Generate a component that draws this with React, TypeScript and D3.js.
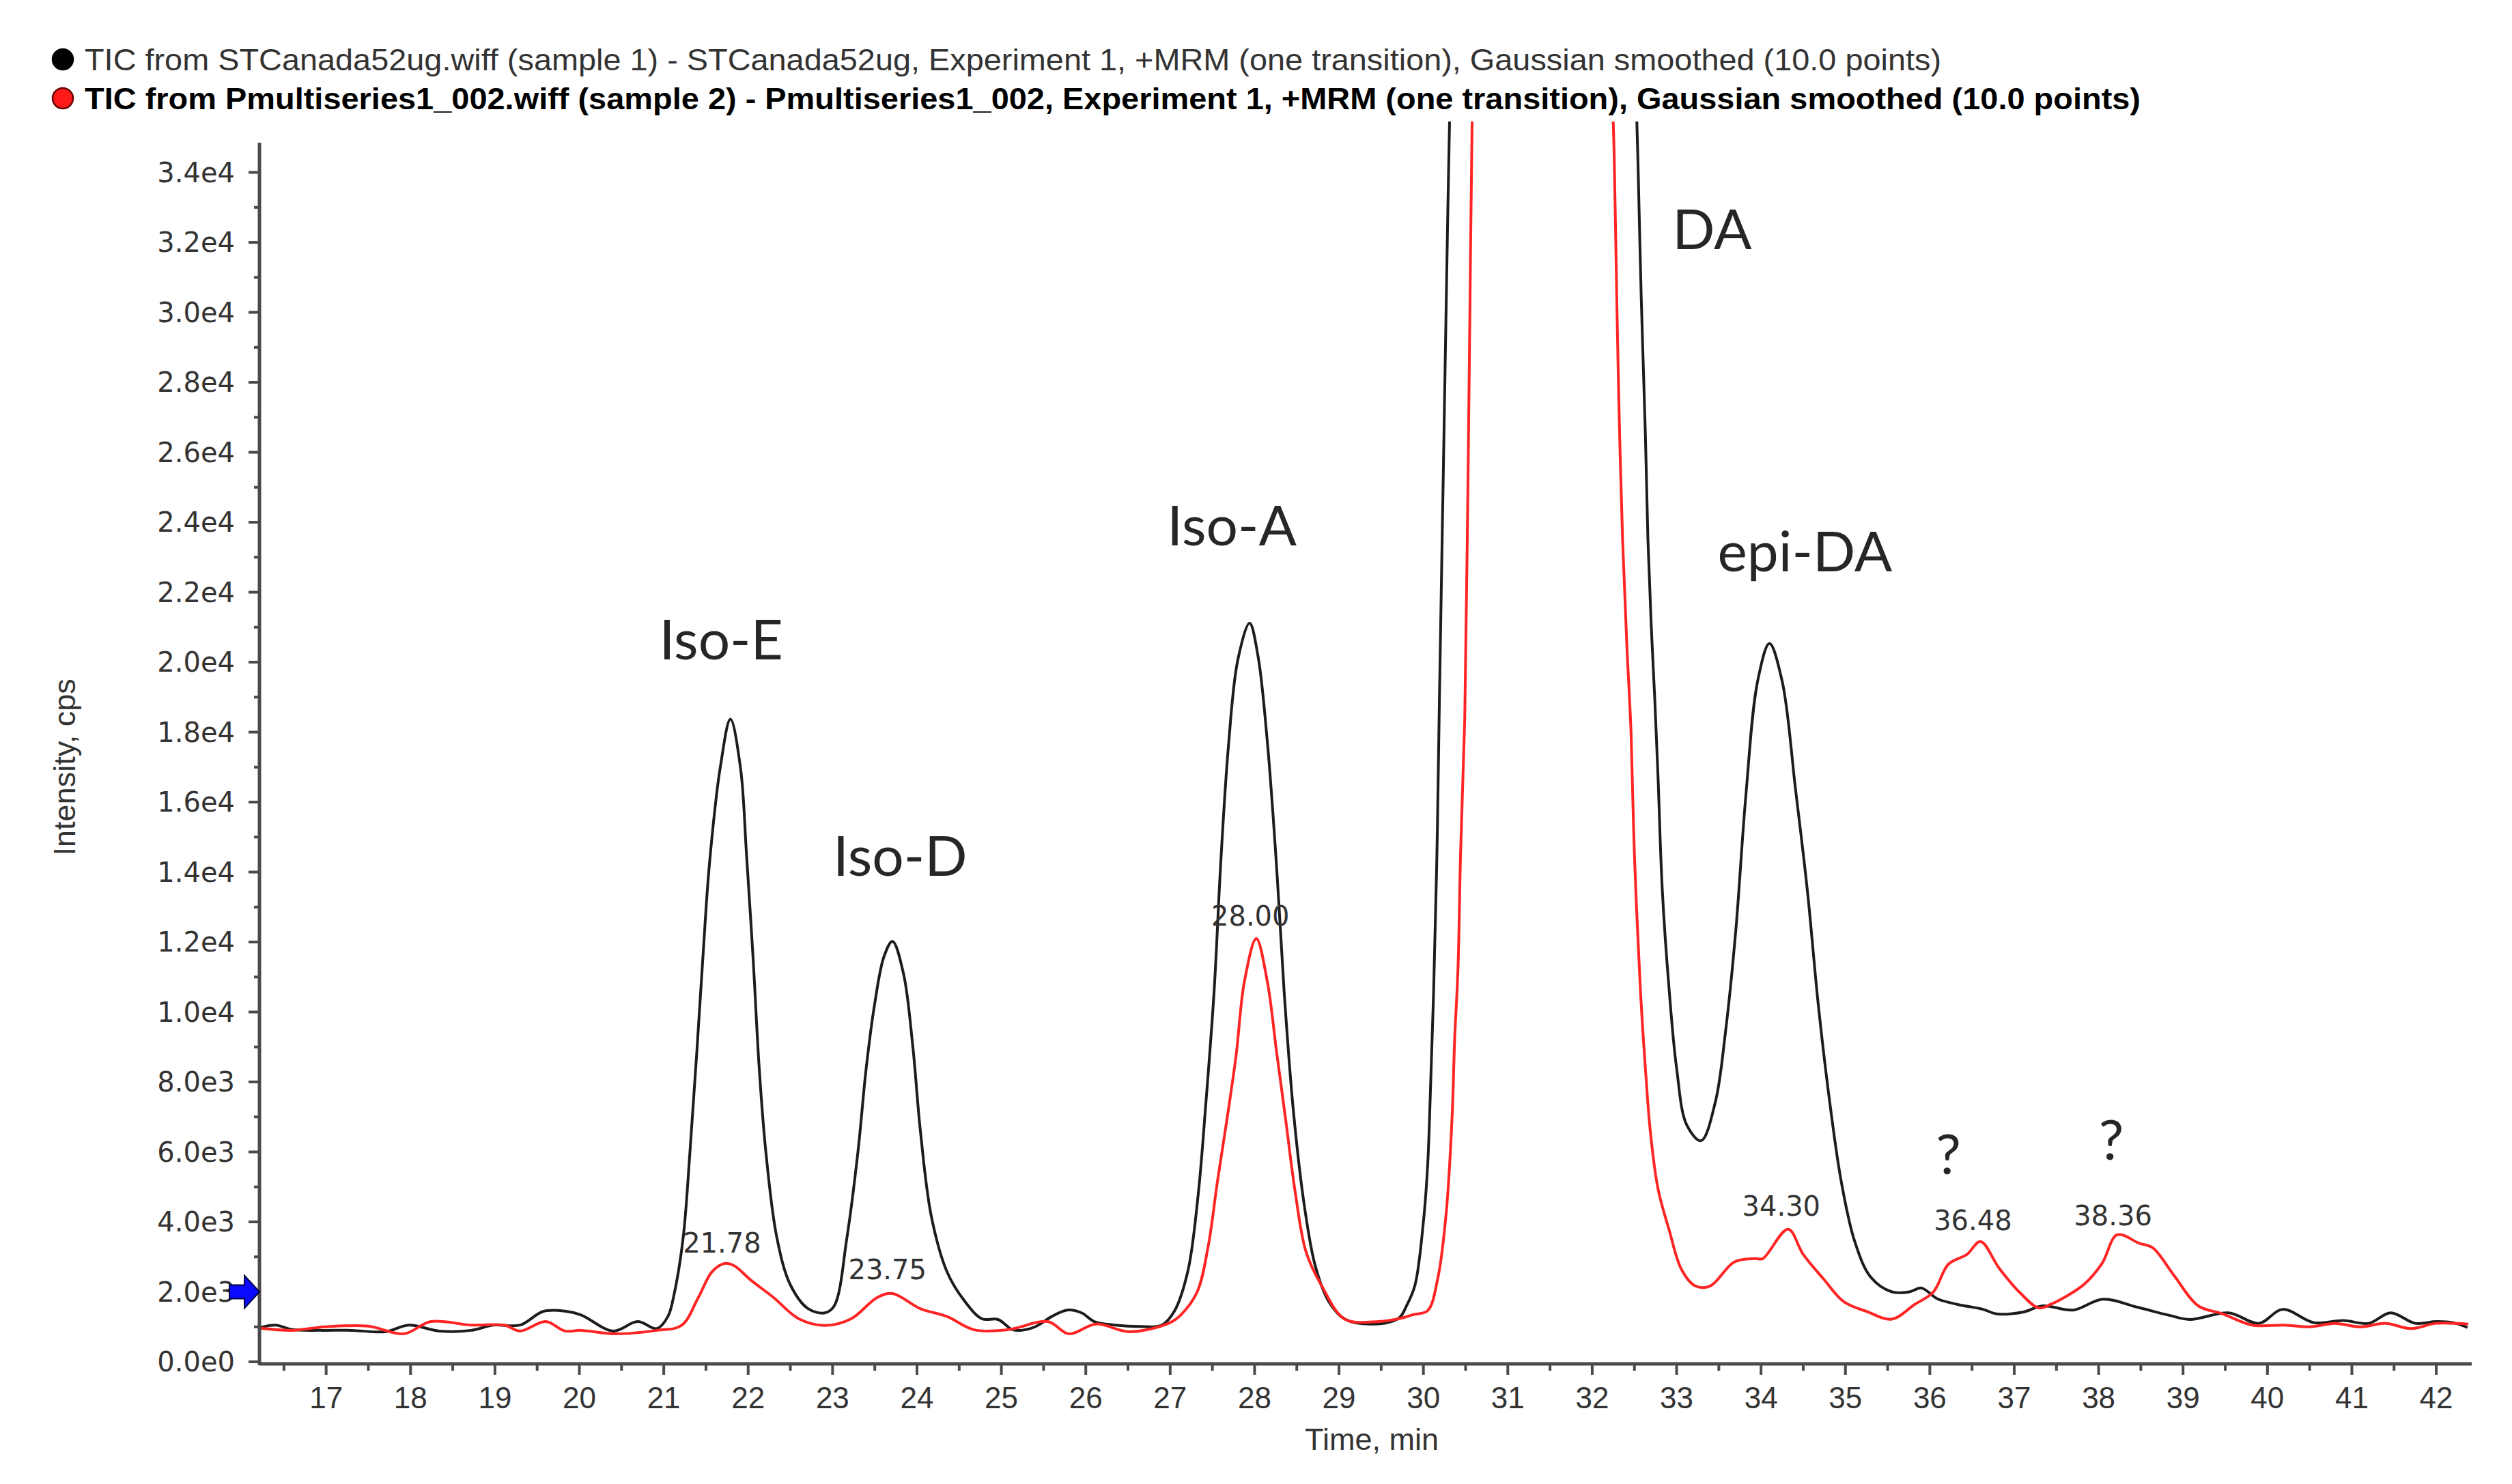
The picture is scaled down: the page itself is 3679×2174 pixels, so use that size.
import * as d3 from 'd3'

const W = 3679
const H = 2174

const legendLabels = [
  'TIC from STCanada52ug.wiff (sample 1) - STCanada52ug, Experiment 1, +MRM (one transition), Gaussian smoothed (10.0 points)',
  'TIC from Pmultiseries1_002.wiff (sample 2) - Pmultiseries1_002, Experiment 1, +MRM (one transition), Gaussian smoothed (10.0 points)',
]

const timeTicks = [17, 18, 19, 20, 21, 22, 23, 24, 25, 26, 27, 28, 29, 30, 31, 32, 33, 34, 35, 36, 37, 38, 39, 40, 41, 42]
const intensityTicks = [0, 2000, 4000, 6000, 8000, 10000, 12000, 14000, 16000, 18000, 20000, 22000, 24000, 26000, 28000, 30000, 32000, 34000]

// sample 1 (black): [time, cps]
const sample1: [number, number][] = [
  [16.22, 980], [16.4, 1050], [16.6, 920], [16.95, 900], [17.3, 900], [17.7, 860], [17.98, 1050],
  [18.34, 880], [18.72, 900], [18.98, 1050], [19.3, 1050], [19.57, 1440], [19.83, 1450], [20.02, 1340],
  [20.4, 880], [20.69, 1150], [20.92, 950], [21.05, 1300], [21.12, 1900], [21.23, 3550], [21.31, 5990],
  [21.39, 8800], [21.47, 11800], [21.54, 14200], [21.67, 17000], [21.79, 18370], [21.91, 16960],
  [21.98, 14520], [22.06, 11470], [22.13, 8430], [22.21, 5990], [22.34, 3550], [22.5, 2200], [22.71, 1520],
  [22.91, 1400], [23.02, 1600], [23.17, 3550], [23.3, 5990], [23.4, 8430], [23.5, 10250], [23.61, 11590],
  [23.71, 12020], [23.84, 11100], [23.95, 9030], [24.04, 6610], [24.17, 4160], [24.36, 2550], [24.56, 1750],
  [24.77, 1230], [24.96, 1210], [25.13, 920], [25.24, 900], [25.4, 1000], [25.6, 1300], [25.78, 1480],
  [25.95, 1400], [26.1, 1150], [26.35, 1050], [26.64, 1010], [26.9, 1050], [27.05, 1450], [27.21, 2600],
  [27.33, 4740], [27.42, 7310], [27.52, 10580], [27.6, 14310], [27.69, 17600], [27.8, 20050], [27.94, 21120],
  [28.04, 20180], [28.15, 17750], [28.26, 14170], [28.35, 10580], [28.46, 7160], [28.59, 4450], [28.72, 2730],
  [28.88, 1720], [29.07, 1220], [29.42, 1080], [29.71, 1250], [29.8, 1600], [29.9, 2190], [30.0, 4000],
  [30.05, 5600], [30.08, 7500], [30.12, 10500], [30.16, 14500], [30.19, 19000], [30.24, 26000],
  [30.29, 33000], [30.33, 38000], [30.6, 80000], [31.4, 150000], [32.2, 80000], [32.5, 38000],
  [32.54, 34500], [32.58, 30500], [32.63, 26500], [32.66, 23500], [32.7, 21000], [32.74, 19000],
  [32.78, 16700], [32.83, 13500], [32.91, 10680], [33.0, 8390], [33.12, 6770], [33.29, 6320], [33.46, 7440],
  [33.58, 9450], [33.7, 12300], [33.82, 16180], [33.96, 19460], [34.1, 20530], [34.25, 19460], [34.41, 16340],
  [34.55, 13450], [34.68, 10170], [34.82, 7310], [34.95, 5160], [35.11, 3440], [35.3, 2420], [35.55, 2000],
  [35.76, 2000], [35.9, 2110], [36.09, 1800], [36.33, 1640], [36.63, 1500], [36.79, 1370], [37.1, 1420],
  [37.34, 1600], [37.7, 1480], [38.05, 1790], [38.46, 1560], [38.82, 1340], [39.08, 1210], [39.54, 1400],
  [39.9, 1100], [40.18, 1500], [40.55, 1120], [40.9, 1180], [41.2, 1100], [41.46, 1400], [41.75, 1100],
  [42.0, 1150], [42.2, 1120], [42.37, 980],
]

// sample 2 (red): [time, cps]
const sample2: [number, number][] = [
  [16.22, 960], [16.6, 900], [16.98, 1000], [17.5, 1020], [17.92, 800], [18.24, 1150], [18.72, 1050],
  [19.11, 1050], [19.3, 880], [19.6, 1150], [19.83, 880], [20.02, 900], [20.43, 800], [20.92, 900],
  [21.21, 1040], [21.41, 1840], [21.57, 2570], [21.72, 2810], [21.83, 2750], [22.04, 2320], [22.3, 1840],
  [22.6, 1230], [22.91, 1040], [23.22, 1230], [23.53, 1840], [23.71, 1950], [24.04, 1520], [24.36, 1290],
  [24.67, 920], [25.08, 920], [25.55, 1150], [25.8, 800], [26.12, 1080], [26.52, 860], [26.99, 1110],
  [27.13, 1350], [27.32, 2000], [27.45, 3300], [27.56, 5160], [27.67, 6890], [27.78, 8740], [27.88, 10880],
  [28.02, 12100], [28.15, 10880], [28.26, 8870], [28.37, 6890], [28.48, 4870], [28.61, 3140], [28.8, 2150],
  [29.07, 1220], [29.47, 1150], [29.74, 1250], [29.88, 1350], [30.05, 1460], [30.17, 2380], [30.27, 4250],
  [30.34, 7000], [30.37, 9200], [30.41, 11260], [30.44, 14500], [30.49, 18400], [30.52, 23500],
  [30.55, 29800], [30.58, 36000], [31.0, 90000], [31.5, 150000], [32.0, 90000], [32.22, 38000],
  [32.26, 34500], [32.29, 30500], [32.32, 27000], [32.36, 23500], [32.41, 20500], [32.46, 18000],
  [32.5, 14500], [32.57, 10680], [32.63, 8390], [32.69, 6550], [32.78, 4940], [32.91, 3780], [33.06, 2630],
  [33.22, 2170], [33.4, 2170], [33.68, 2850], [33.93, 2950], [34.02, 2950], [34.32, 3790], [34.5, 3070],
  [34.74, 2370], [34.98, 1720], [35.25, 1440], [35.55, 1220], [35.82, 1640], [36.04, 1990], [36.22, 2790],
  [36.44, 3070], [36.6, 3440], [36.82, 2680], [37.07, 1970], [37.29, 1540], [37.43, 1640], [37.83, 2220],
  [38.04, 2810], [38.22, 3630], [38.48, 3390], [38.64, 3260], [38.89, 2480], [39.18, 1600], [39.46, 1380],
  [39.82, 1050], [40.2, 1050], [40.5, 1000], [40.8, 1100], [41.1, 1000], [41.4, 1100], [41.7, 950],
  [42.0, 1100], [42.38, 1080],
]

// compound names written on the plot (time, intensity of baseline)
const peakNames = ['Iso-E', 'Iso-D', 'Iso-A', 'DA', 'epi-DA', '?', '?']
const peakNameTime = [21.68, 23.8, 27.73, 33.42, 34.52, 36.22, 38.15]
const peakNameLevel = [20070, 13900, 23330, 31800, 22590, 5370, 5780]

// retention-time labels of sample 2
const rtLabels = ['21.78', '23.75', '28.00', '34.30', '36.48', '38.36']
const rtLabelTime = [21.69, 23.65, 27.95, 34.24, 36.51, 38.17]
const rtLabelLevel = [3120, 2360, 12470, 4180, 3770, 3900]

const thresholdLevel = 2000

const sans = '"Liberation Sans", Arial, sans-serif'
const verdanaLike = '"DejaVu Sans", Verdana, sans-serif'
const calibriLike = 'Lato, "Open Sans", sans-serif'

const fmtExp = (v: number) => v.toExponential(1).replace('+', '')

export default function App() {
  const xScale = d3.scaleLinear().domain([16.21, 42.42]).range([380, 3620])
  const yScale = d3.scaleLinear().domain([0, 34850]).range([1995, 209])

  const line = d3
    .line<[number, number]>()
    .x(d => xScale(d[0]))
    .y(d => yScale(d[1]))
    .curve(d3.curveCatmullRom.alpha(0.5))

  const [x0, x1] = xScale.range()
  const [yBottom, yTop] = yScale.range()
  const axisY = yBottom + 3

  const minorTimes = d3.range(16.5, 42.5, 1)
  const minorLevels = d3.range(1000, 35000, 2000)

  const arrowY = yScale(thresholdLevel)

  return (
    <svg
      width={W}
      height={H}
      viewBox={`0 0 ${W} ${H}`}
      style={{ position: 'absolute', left: 0, top: 0, display: 'block', background: '#fff' }}
    >
      <defs>
        <clipPath id="plot-clip">
          <rect x={x0 + 2} y={yTop - 31} width={x1 - x0} height={axisY - yTop + 31} />
        </clipPath>
      </defs>

      {/* legend */}
      {legendLabels.map((label, i) => (
        <g key={label}>
          <circle
            cx={92}
            cy={87 + i * 57}
            r={15}
            fill={i === 0 ? '#000' : '#ff1a1a'}
            stroke={i === 0 ? '#000' : '#600'}
            strokeWidth={2.5}
          />
          <text
            x={124}
            y={103 + i * 57}
            fontFamily={sans}
            fontSize={44}
            fontWeight={i === 0 ? 400 : 700}
            fill={i === 0 ? '#333' : '#000'}
            textLength={i === 0 ? 2719 : 3011}
            lengthAdjust="spacingAndGlyphs"
          >
            {label}
          </text>
        </g>
      ))}

      {/* curves */}
      <g clipPath="url(#plot-clip)" fill="none" strokeLinejoin="round">
        <path d={line(sample1) ?? ''} stroke="#1c1c1c" strokeWidth={4} />
        <path d={line(sample2) ?? ''} stroke="#ff2424" strokeWidth={4} />
      </g>

      {/* y axis */}
      <g stroke="#4a4a4a">
        <line x1={x0} x2={x0} y1={yTop} y2={axisY + 2} strokeWidth={5} />
        {intensityTicks.map(v => (
          <line key={v} x1={x0 - 16} x2={x0} y1={yScale(v)} y2={yScale(v)} strokeWidth={4} />
        ))}
        {minorLevels.map(v => (
          <line key={v} x1={x0 - 8} x2={x0} y1={yScale(v)} y2={yScale(v)} strokeWidth={4} />
        ))}
      </g>
      {intensityTicks.map(v => (
        <text
          key={v}
          x={x0 - 36}
          y={yScale(v)}
          dy="0.36em"
          textAnchor="end"
          fontFamily={verdanaLike}
          fontSize={40}
          fill="#333"
        >
          {fmtExp(v)}
        </text>
      ))}

      {/* x axis */}
      <g stroke="#4a4a4a">
        <line x1={x0} x2={x1} y1={axisY} y2={axisY} strokeWidth={5} />
        {timeTicks.map(t => (
          <line key={t} x1={xScale(t)} x2={xScale(t)} y1={axisY} y2={axisY + 16} strokeWidth={4} />
        ))}
        {minorTimes.map(t => (
          <line key={t} x1={xScale(t)} x2={xScale(t)} y1={axisY} y2={axisY + 10} strokeWidth={4} />
        ))}
      </g>
      {timeTicks.map(t => (
        <text
          key={t}
          x={xScale(t)}
          y={axisY + 65}
          textAnchor="middle"
          fontFamily={sans}
          fontSize={44}
          fill="#333"
        >
          {t}
        </text>
      ))}

      <text x={(x0 + x1) / 2 + 9} y={2124} textAnchor="middle" fontFamily={sans} fontSize={45} fill="#333">
        Time, min
      </text>
      <text
        transform={`translate(94, ${(yScale(13500) + yScale(20500)) / 2}) rotate(-90)`}
        textAnchor="middle"
        dy="0.35em"
        fontFamily={sans}
        fontSize={45}
        fill="#333"
      >
        Intensity, cps
      </text>

      {/* threshold arrow */}
      <path
        d={`M ${x0} ${arrowY} L ${x0 - 22} ${arrowY - 24} L ${x0 - 22} ${arrowY - 10} L ${x0 - 44} ${arrowY - 10} L ${x0 - 44} ${arrowY + 10} L ${x0 - 22} ${arrowY + 10} L ${x0 - 22} ${arrowY + 24} Z`}
        fill="#0a0aff"
        stroke="#000040"
        strokeWidth={2}
      />

      {/* retention time labels */}
      {rtLabels.map((label, i) => (
        <text
          key={label}
          x={xScale(rtLabelTime[i])}
          y={yScale(rtLabelLevel[i])}
          textAnchor="middle"
          fontFamily={verdanaLike}
          fontSize={40}
          fill="#333"
        >
          {label}
        </text>
      ))}

      {/* compound names */}
      {peakNames.map((name, i) => (
        <text
          key={i}
          x={xScale(peakNameTime[i])}
          y={yScale(peakNameLevel[i])}
          textAnchor="middle"
          fontFamily={calibriLike}
          fontSize={82}
          fill="#262626"
        >
          {name}
        </text>
      ))}
    </svg>
  )
}
